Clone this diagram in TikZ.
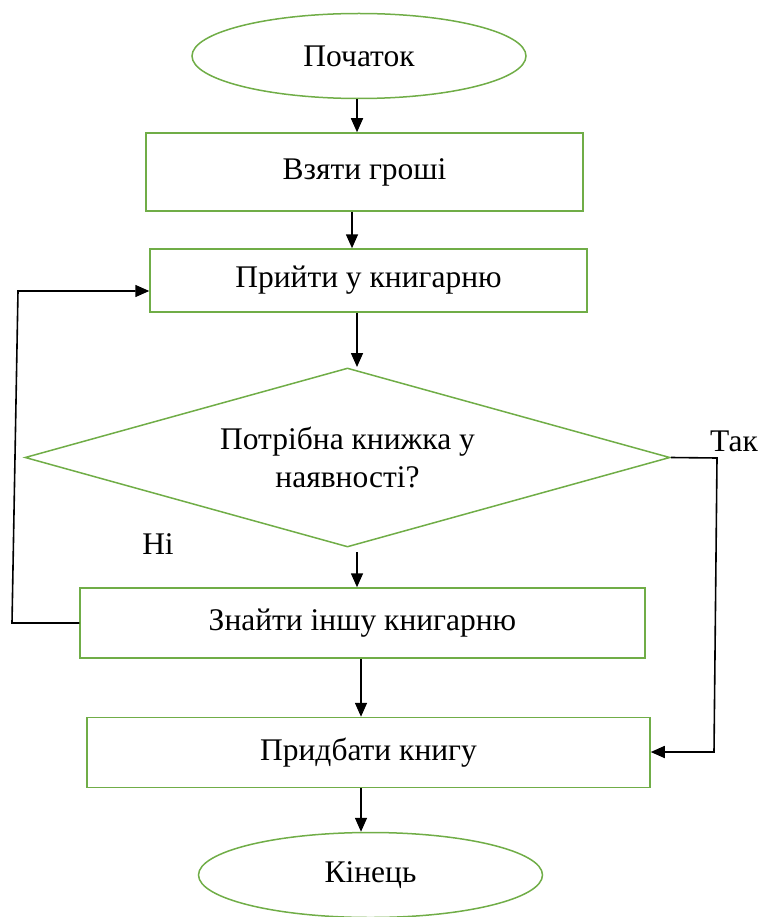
\documentclass[tikz,border=0pt]{standalone}
\usepackage{fontspec}
\setmainfont{Liberation Serif}
\usetikzlibrary{shapes.geometric,arrows.meta}
\definecolor{boxgreen}{RGB}{112,173,71}
\begin{document}
\begin{tikzpicture}[x=1pt,y=-1pt,
  every node/.style={font=\fontsize{31.5}{38}\selectfont, inner sep=0pt},
  term/.style={ellipse, draw=boxgreen, line width=1.5pt, minimum width=334pt, minimum height=85pt},
  procbox/.style={rectangle, draw=boxgreen, line width=1.5pt},
  decide/.style={diamond, draw=boxgreen, line width=1.5pt, aspect=3.6, align=center, minimum width=645pt, minimum height=179pt},
  arr/.style={draw=black, line width=1.6pt, -{Triangle[length=14pt,width=12pt]}},
  lin/.style={draw=black, line width=1.6pt}]
\useasboundingbox (0,0) rectangle (761,917);
\node[term] (start) at (359,56) {Початок};
\node[procbox, minimum width=437pt, minimum height=78pt] (take) at (364.5,172) {Взяти гроші};
\node[procbox, minimum width=437pt, minimum height=63pt] (go) at (368.5,280.5) {Прийти у книгарню};
\node[decide] (dia) at (347.5,457.5) {Потрібна книжка у\\наявності?};
\node[procbox, minimum width=565pt, minimum height=70pt] (find) at (362.5,623) {Знайти іншу книгарню};
\node[procbox, minimum width=563pt, minimum height=70pt] (buy) at (368.5,752.5) {Придбати книгу};
\node[term, minimum width=344pt] (end) at (370.5,875) {Кінець};
\node (yes) at (734,441) {Так};
\node (no) at (158,544) {Ні};
\coordinate (c1) at (357,0);
\coordinate (c2) at (352,0);
\coordinate (c5) at (361,0);
\draw[arr] (c1 |- start.south) -- (c1 |- take.north);
\draw[arr] (c2 |- take.south) -- (c2 |- go.north);
\draw[arr] (c1 |- go.south) -- (357,367);
\draw[arr] (357,552) -- (c1 |- find.north);
\draw[arr] (c5 |- find.south) -- (c5 |- buy.north);
\draw[arr] (c5 |- buy.south) -- (c5 |- end.north);
\coordinate (l1) at (12,623);
\coordinate (l2) at (18,291);
\draw[arr] (find.west) -- (l1) -- (l2) -- (l2 -| go.west);
\coordinate (r1) at (717,458);
\coordinate (r2) at (714,752);
\draw[arr] (dia.east) -- (r1) -- (r2) -- (r2 -| buy.east);
\end{tikzpicture}
\end{document}
